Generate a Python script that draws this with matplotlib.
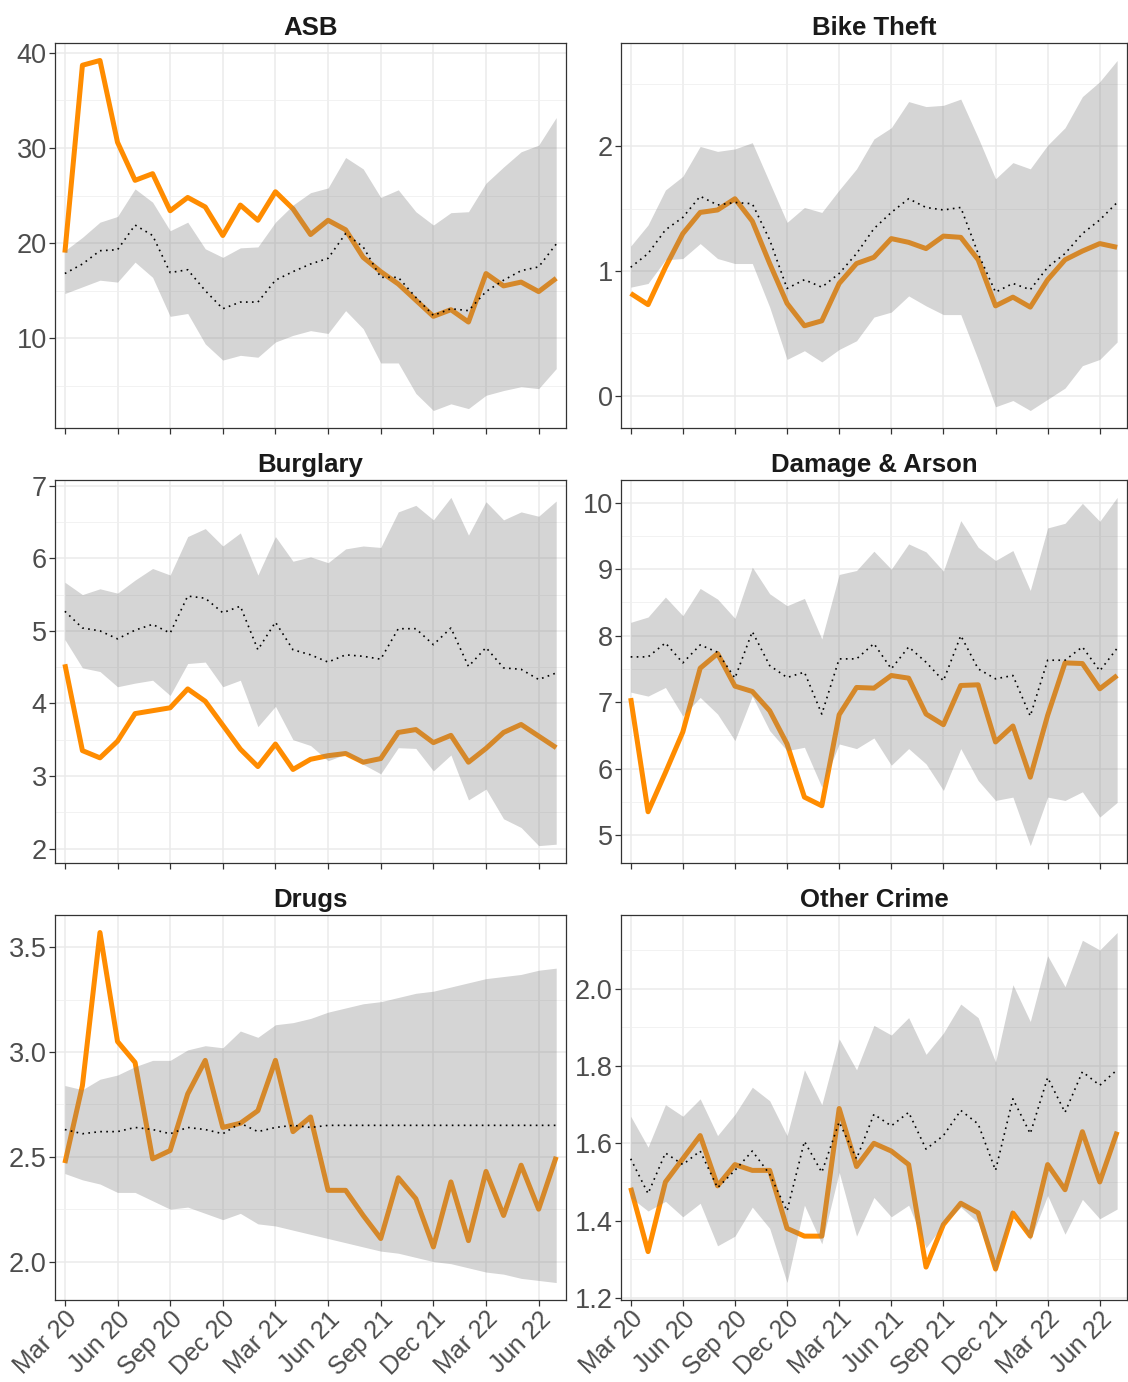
import numpy as np
import pandas as pd
import matplotlib
matplotlib.use("Agg")
import matplotlib.pyplot as plt
from matplotlib.ticker import MultipleLocator, FormatStrFormatter, FixedLocator


months = pd.date_range("2020-03-01", periods=29, freq="MS")
tick_idx = list(range(0, 29, 3))
tick_labels = [months[i].strftime("%b %y") for i in tick_idx]

titles = ["ASB", "Bike Theft", "Burglary", "Damage & Arson", "Drugs", "Other Crime"]

asb_actual = [19.0, 38.7, 39.2, 30.6, 26.6, 27.3, 23.4, 24.8, 23.8, 20.8, 24.0, 22.4, 25.4, 23.6, 20.9,
              22.4, 21.4, 18.5, 17.0, 15.7, 14.0, 12.3, 13.0, 11.7, 16.8, 15.5, 15.9, 14.9, 16.3]
asb_pred = [16.8, 17.8, 19.2, 19.3, 21.9, 20.8, 16.9, 17.2, 15.0, 13.1, 13.8, 13.8, 16.1, 17.0, 17.8,
            18.4, 21.0, 19.6, 16.4, 16.4, 14.3, 12.4, 13.1, 12.9, 14.9, 16.1, 17.1, 17.5, 19.9]
asb_upper = [19.2, 20.6, 22.2, 22.8, 25.7, 24.3, 21.3, 22.2, 19.4, 18.5, 19.5, 19.6, 22.2, 24.0, 25.3,
             25.8, 29.0, 27.8, 24.8, 25.6, 23.3, 21.9, 23.2, 23.3, 26.3, 28.0, 29.6, 30.3, 33.2]
asb_lower = [14.7, 15.4, 16.1, 15.9, 18.0, 16.4, 12.3, 12.6, 9.4, 7.7, 8.2, 8.0, 9.6, 10.3, 10.8,
             10.5, 12.9, 11.0, 7.4, 7.4, 4.2, 2.4, 3.1, 2.6, 4.0, 4.5, 4.9, 4.7, 6.8]

bike_actual = [0.82, 0.73, 1.03, 1.30, 1.47, 1.49, 1.58, 1.40, 1.06, 0.74, 0.56, 0.60, 0.90, 1.06, 1.11,
               1.26, 1.23, 1.18, 1.28, 1.27, 1.09, 0.72, 0.79, 0.71, 0.93, 1.09, 1.16, 1.22, 1.19]
bike_pred = [1.03, 1.14, 1.33, 1.43, 1.60, 1.53, 1.55, 1.54, 1.25, 0.86, 0.93, 0.87, 0.98, 1.14, 1.34,
             1.47, 1.58, 1.51, 1.49, 1.51, 1.14, 0.83, 0.90, 0.85, 1.03, 1.14, 1.30, 1.41, 1.55]
bike_upper = [1.20, 1.37, 1.65, 1.76, 2.00, 1.96, 1.98, 2.03, 1.71, 1.39, 1.51, 1.47, 1.65, 1.82, 2.06,
              2.15, 2.36, 2.32, 2.33, 2.38, 2.07, 1.74, 1.87, 1.82, 2.01, 2.15, 2.40, 2.52, 2.69]
bike_lower = [0.87, 0.90, 1.09, 1.10, 1.22, 1.10, 1.06, 1.06, 0.71, 0.29, 0.36, 0.27, 0.37, 0.44, 0.63,
              0.67, 0.80, 0.72, 0.65, 0.65, 0.29, -0.09, -0.04, -0.12, -0.03, 0.06, 0.24, 0.29, 0.43]

burg_actual = [4.54, 3.35, 3.25, 3.48, 3.86, 3.90, 3.94, 4.20, 4.03, 3.70, 3.37, 3.13, 3.44, 3.09, 3.23,
               3.28, 3.31, 3.19, 3.24, 3.60, 3.64, 3.46, 3.56, 3.19, 3.38, 3.60, 3.71, 3.55, 3.39]
burg_pred = [5.27, 5.04, 5.00, 4.89, 5.01, 5.09, 4.97, 5.48, 5.45, 5.25, 5.34, 4.74, 5.12, 4.74, 4.67,
             4.57, 4.67, 4.65, 4.61, 5.03, 5.03, 4.81, 5.04, 4.51, 4.77, 4.49, 4.47, 4.33, 4.42]
burg_upper = [5.67, 5.50, 5.58, 5.52, 5.70, 5.86, 5.77, 6.30, 6.41, 6.17, 6.35, 5.77, 6.30, 5.96, 6.02,
              5.94, 6.13, 6.17, 6.15, 6.64, 6.73, 6.53, 6.84, 6.32, 6.78, 6.53, 6.64, 6.58, 6.79]
burg_lower = [4.88, 4.49, 4.44, 4.23, 4.28, 4.32, 4.11, 4.55, 4.57, 4.23, 4.32, 3.68, 3.96, 3.50, 3.42,
              3.21, 3.30, 3.16, 3.03, 3.39, 3.38, 3.07, 3.29, 2.67, 2.82, 2.41, 2.29, 2.04, 2.06]

dam_actual = [7.06, 5.35, 5.94, 6.55, 7.51, 7.73, 7.24, 7.16, 6.87, 6.37, 5.57, 5.44, 6.81, 7.22, 7.21,
              7.40, 7.36, 6.82, 6.66, 7.25, 7.26, 6.40, 6.64, 5.87, 6.80, 7.59, 7.58, 7.20, 7.40]
dam_pred = [7.68, 7.68, 7.89, 7.59, 7.86, 7.75, 7.36, 8.06, 7.55, 7.37, 7.45, 6.82, 7.65, 7.65, 7.88,
            7.50, 7.83, 7.60, 7.32, 8.00, 7.50, 7.35, 7.40, 6.79, 7.63, 7.63, 7.83, 7.47, 7.81]
dam_upper = [8.20, 8.28, 8.58, 8.30, 8.71, 8.55, 8.26, 9.03, 8.63, 8.45, 8.56, 7.95, 8.92, 8.98, 9.27,
             9.00, 9.38, 9.26, 8.97, 9.73, 9.33, 9.13, 9.28, 8.68, 9.62, 9.69, 9.99, 9.72, 10.08]
dam_lower = [7.15, 7.09, 7.22, 6.79, 7.07, 6.82, 6.42, 7.09, 6.57, 6.27, 6.32, 5.72, 6.37, 6.30, 6.46,
             6.05, 6.30, 6.07, 5.67, 6.30, 5.82, 5.52, 5.57, 4.84, 5.57, 5.52, 5.65, 5.27, 5.49]

drugs_actual = [2.47, 2.84, 3.57, 3.05, 2.95, 2.49, 2.53, 2.80, 2.96, 2.64, 2.66, 2.72, 2.96, 2.62, 2.69,
                2.34, 2.34, 2.22, 2.11, 2.40, 2.30, 2.07, 2.38, 2.10, 2.43, 2.22, 2.46, 2.25, 2.50]
drugs_pred = [2.63, 2.61, 2.62, 2.62, 2.64, 2.63, 2.61, 2.64, 2.63, 2.61, 2.66, 2.62, 2.64, 2.65, 2.64,
              2.65, 2.65, 2.65, 2.65, 2.65, 2.65, 2.65, 2.65, 2.65, 2.65, 2.65, 2.65, 2.65, 2.65]
drugs_upper = [2.84, 2.82, 2.87, 2.89, 2.93, 2.96, 2.96, 3.01, 3.03, 3.02, 3.10, 3.07, 3.13, 3.14, 3.16,
               3.19, 3.21, 3.23, 3.24, 3.26, 3.28, 3.29, 3.31, 3.33, 3.35, 3.36, 3.37, 3.39, 3.40]
drugs_lower = [2.42, 2.39, 2.37, 2.33, 2.33, 2.29, 2.25, 2.26, 2.23, 2.20, 2.23, 2.18, 2.17, 2.15, 2.13,
               2.11, 2.09, 2.07, 2.05, 2.04, 2.02, 2.00, 1.99, 1.97, 1.95, 1.94, 1.92, 1.91, 1.90]

other_actual = [1.485, 1.32, 1.50, 1.56, 1.62, 1.49, 1.545, 1.53, 1.53, 1.38, 1.36, 1.36, 1.69, 1.54, 1.60,
                1.58, 1.545, 1.28, 1.39, 1.445, 1.42, 1.275, 1.42, 1.36, 1.545, 1.48, 1.63, 1.50, 1.63]
other_pred = [1.56, 1.47, 1.575, 1.545, 1.58, 1.485, 1.53, 1.58, 1.52, 1.425, 1.605, 1.525, 1.655, 1.56, 1.675,
              1.645, 1.68, 1.585, 1.62, 1.685, 1.65, 1.53, 1.715, 1.625, 1.77, 1.68, 1.785, 1.75, 1.79]
other_upper = [1.67, 1.59, 1.70, 1.67, 1.715, 1.62, 1.675, 1.745, 1.71, 1.62, 1.79, 1.70, 1.87, 1.79, 1.905,
               1.88, 1.925, 1.83, 1.885, 1.96, 1.925, 1.81, 2.01, 1.915, 2.085, 2.005, 2.125, 2.10, 2.145]
other_lower = [1.46, 1.425, 1.45, 1.41, 1.445, 1.335, 1.36, 1.435, 1.38, 1.24, 1.44, 1.34, 1.525, 1.36, 1.46,
               1.41, 1.44, 1.33, 1.39, 1.435, 1.395, 1.265, 1.43, 1.35, 1.465, 1.365, 1.455, 1.405, 1.43]

panels = [
    (asb_actual, asb_pred, asb_lower, asb_upper, 10, "%d"),
    (bike_actual, bike_pred, bike_lower, bike_upper, 1, "%d"),
    (burg_actual, burg_pred, burg_lower, burg_upper, 1, "%d"),
    (dam_actual, dam_pred, dam_lower, dam_upper, 1, "%d"),
    (drugs_actual, drugs_pred, drugs_lower, drugs_upper, 0.5, "%.1f"),
    (other_actual, other_pred, other_lower, other_upper, 0.2, "%.1f"),
]

# axes rectangles in figure fractions (left, bottom, width, height)
col_x = [(0.0488, 0.4530), (0.5505, 0.4485)]
row_y = [(0.6903, 0.2786), (0.3755, 0.2772), (0.0593, 0.2786)]


def draw_panel(ax, title, actual, pred, lower, upper, step, fmt, show_x):
    x = np.arange(len(actual))
    ax.plot(x, actual, color="#FF8C00", lw=3.6, solid_joinstyle="round", solid_capstyle="butt", zorder=2)
    ax.fill_between(x, lower, upper, color="#808080", alpha=0.33, lw=0, zorder=3)
    ax.plot(x, pred, color="black", lw=1.2, linestyle=(0, (1, 2.6)), zorder=4)
    ax.margins(x=0.02, y=0.05)

    ax.yaxis.set_major_locator(MultipleLocator(step))
    ax.yaxis.set_minor_locator(MultipleLocator(step / 2))
    ax.yaxis.set_major_formatter(FormatStrFormatter(fmt))
    ax.xaxis.set_major_locator(FixedLocator(tick_idx))
    ax.set_axisbelow(True)
    ax.grid(which="major", color="#EBEBEB", lw=1.1)
    ax.grid(which="minor", axis="y", color="#F0F0F0", lw=0.6)

    ax.tick_params(which="major", length=4, width=0.9, color="#333333",
                   labelsize=19.5, labelcolor="#4D4D4D", pad=2)
    ax.tick_params(axis="x", labelsize=18, pad=1)
    ax.tick_params(which="minor", length=0)
    if show_x:
        ax.set_xticklabels(tick_labels, rotation=45, ha="right", rotation_mode="anchor")
    else:
        ax.set_xticklabels([])
    for s in ax.spines.values():
        s.set_color("#333333")
        s.set_linewidth(0.9)
    ax.set_title(title, fontsize=18.5, fontweight="bold", color="#1A1A1A", pad=6)


def main():
    plt.rcParams["font.family"] = ["Liberation Sans", "DejaVu Sans"]
    fig = plt.figure(figsize=(11.28, 13.82), dpi=100)
    for k, (actual, pred, lower, upper, step, fmt) in enumerate(panels):
        r, c = divmod(k, 2)
        ax = fig.add_axes([col_x[c][0], row_y[r][0], col_x[c][1], row_y[r][1]])
        draw_panel(ax, titles[k], actual, pred, lower, upper, step, fmt, r == 2)
    fig.savefig("out.png", dpi=100)


if __name__ == "__main__":
    main()
